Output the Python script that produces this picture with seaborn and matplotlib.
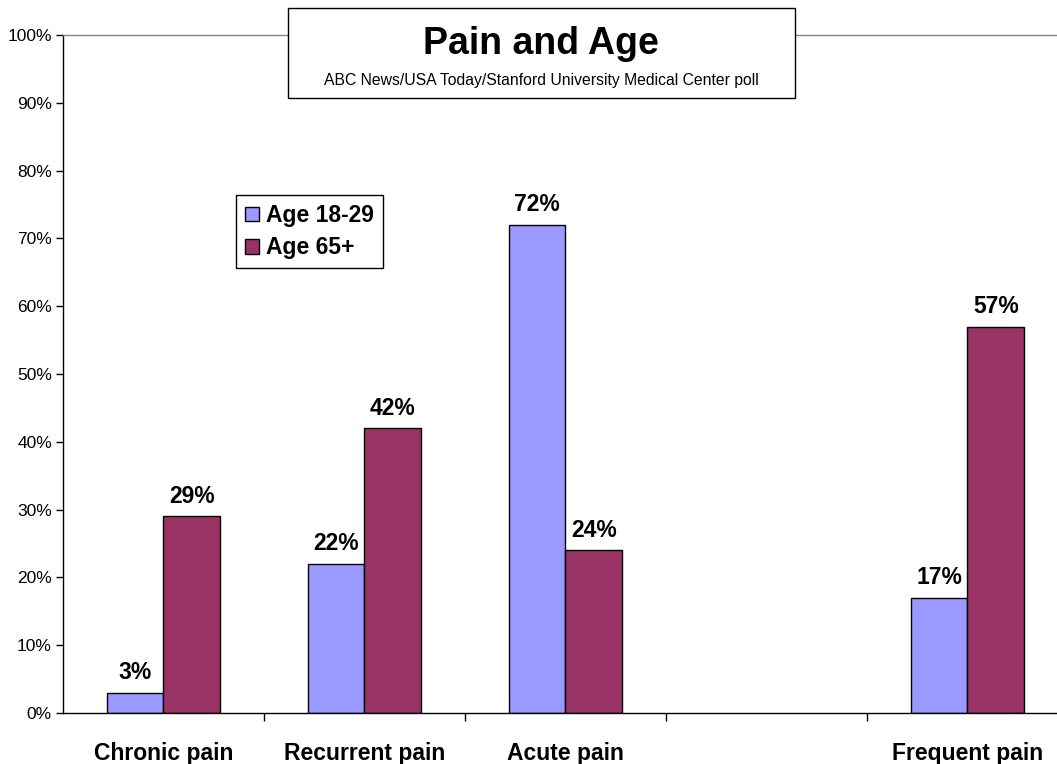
import matplotlib
matplotlib.use("Agg")
import matplotlib.pyplot as plt
from matplotlib.patches import Rectangle
from matplotlib.ticker import FuncFormatter
import seaborn as sns
import pandas as pd
import numpy as np

categories = ["Chronic pain", "Recurrent pain", "Acute pain", "", "Frequent pain"]
groups = ["Age 18-29", "Age 65+"]
young = [3, 22, 72, np.nan, 17]
old = [29, 42, 24, np.nan, 57]
colors = ["#9999FF", "#993366"]

df = pd.DataFrame({
    "category": categories * 2,
    "group": [groups[0]] * len(categories) + [groups[1]] * len(categories),
    "value": young + old,
})

sns.set_style("white")
plt.rcParams["font.family"] = ["Liberation Sans", "DejaVu Sans"]
plt.rcParams["text.color"] = "black"
plt.rcParams["xtick.color"] = "black"
plt.rcParams["ytick.color"] = "black"

fig = plt.figure(figsize=(10.57, 7.64), dpi=100)
ax = fig.add_axes([0.0596, 0.0668, 0.9508, 0.8874])

sns.barplot(data=df, x="category", y="value", hue="group", order=categories,
            hue_order=groups, palette=colors, saturation=1, width=0.567,
            edgecolor="black", linewidth=1, ax=ax)

# value labels above bars
for cont in ax.containers:
    for bar in cont:
        if bar is None or np.isnan(bar.get_height()):
            continue
        ax.annotate("%d%%" % round(bar.get_height()),
                    (bar.get_x() + bar.get_width() / 2, bar.get_height()),
                    xytext=(0, 6), textcoords="offset points", ha="center", va="bottom",
                    fontsize=16.5, fontweight="bold", color="black")

ax.set_xlim(-0.5, 4.5)
ax.set_ylim(0, 100)
ax.set_yticks(range(0, 101, 10))
ax.yaxis.set_major_formatter(FuncFormatter(lambda v, p: "%d%%" % v))
ax.tick_params(axis="y", direction="out", length=5, width=1, labelsize=12.5, left=True, pad=3)
ax.set_xticks(range(len(categories)))
ax.set_xticklabels(categories, fontsize=16.5, fontweight="bold")
ax.tick_params(axis="x", which="major", length=0, pad=21)
ax.set_xticks([0.5, 1.5, 2.5, 3.5], minor=True)
ax.tick_params(axis="x", which="minor", direction="out", length=6, width=1, bottom=True)
ax.set_xlabel("")
ax.set_ylabel("")

for s in ["left", "bottom"]:
    ax.spines[s].set_color("black")
    ax.spines[s].set_linewidth(1)
ax.spines["top"].set_color("#808080")
ax.spines["top"].set_linewidth(1)
ax.spines["right"].set_visible(False)

leg = ax.legend(loc="upper left", bbox_to_anchor=(0.2233, 0.7448), bbox_transform=fig.transFigure,
                frameon=True, fancybox=False, edgecolor="black", framealpha=1,
                prop={"weight": "bold", "size": 16.5}, handlelength=0.6, handleheight=0.6,
                handletextpad=0.3, borderpad=0.4, labelspacing=0.4, borderaxespad=0)
leg.get_frame().set_linewidth(1)

# title box
fig.patches.append(Rectangle((0.2725, 0.8717), 0.4797, 0.1178, transform=fig.transFigure,
                             facecolor="white", edgecolor="black", linewidth=1, zorder=5))
fig.text(0.512, 0.942, "Pain and Age", ha="center", va="center", fontsize=27,
         fontweight="bold", zorder=6)
fig.text(0.512, 0.895, "ABC News/USA Today/Stanford University Medical Center poll",
         ha="center", va="center", fontsize=11.3, zorder=6)

fig.savefig("out.png", dpi=100)
